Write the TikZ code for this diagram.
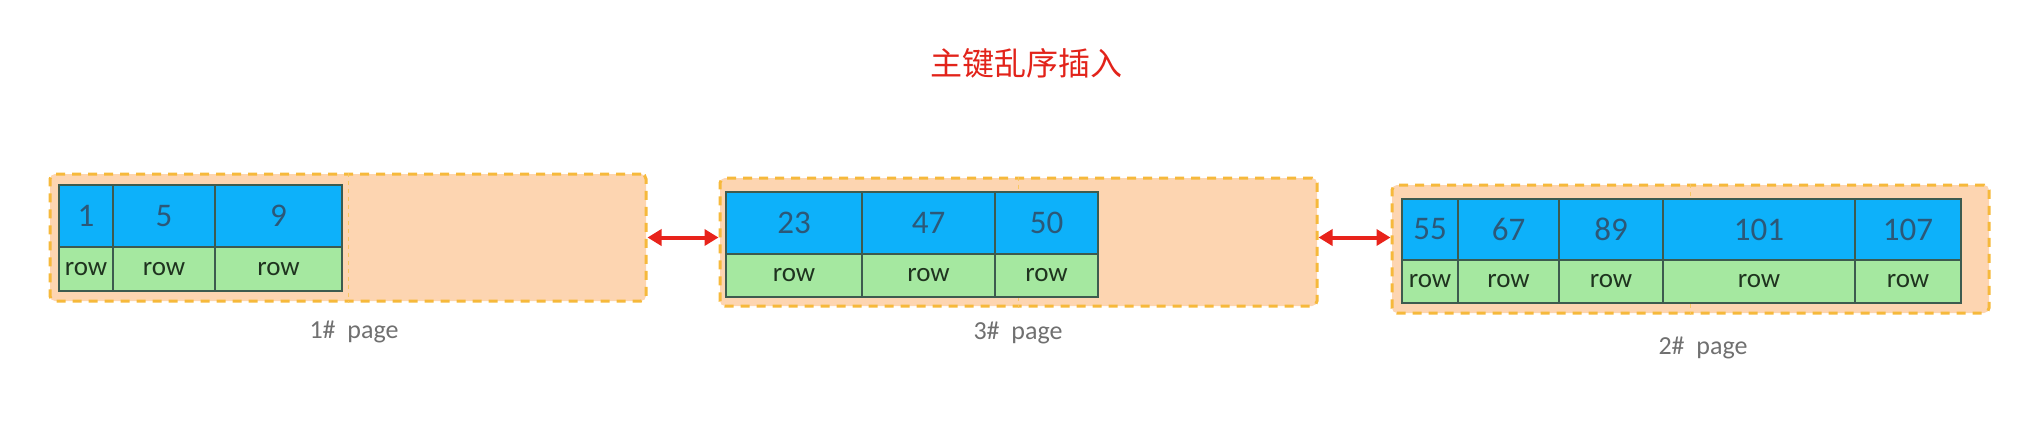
\documentclass[tikz,border=0pt]{standalone}
\usepackage{fontspec}
\setmainfont{Carlito}
\newfontfamily\cjkfont{Noto Sans CJK SC}
\usetikzlibrary{arrows.meta}

\definecolor{pagefill}{HTML}{FDD5B1}
\definecolor{pageline}{HTML}{F6B93B}
\definecolor{keyblue}{HTML}{0DB1FA}
\definecolor{rowgreen}{HTML}{A5E8A0}
\definecolor{cellline}{HTML}{3D5B4F}
\definecolor{keyink}{HTML}{2C5878}
\definecolor{rowink}{HTML}{1F331F}
\definecolor{labelgray}{HTML}{707070}
\definecolor{titlered}{HTML}{E2231A}
\definecolor{linkred}{HTML}{E8231B}

\tikzset{
  pagebox/.style={draw=pageline, fill=pagefill, line width=1.5pt, dash pattern=on 4.5pt off 3.5pt, rounded corners=2.5pt, inner sep=0pt},
  midline/.style={draw=pageline!80, line width=0.5pt, dash pattern=on 2pt off 2pt},
  keycell/.style={draw=cellline, fill=keyblue, line width=0.75pt},
  rowcell/.style={draw=cellline, fill=rowgreen, line width=0.75pt},
  keytext/.style={text=keyink, font=\fontsize{16.5}{19}\selectfont},
  rowtext/.style={text=rowink, font=\fontsize{13.5}{16}\selectfont},
  pagelabel/.style={text=labelgray, font=\fontsize{13}{15}\selectfont},
  linkarrow/.style={draw=linkred, line width=2pt, {Triangle[length=7pt,width=8pt]}-{Triangle[length=7pt,width=8pt]}},
}

\begin{document}
\begin{tikzpicture}[x=0.5pt,y=-0.5pt]
\useasboundingbox (0,0) rectangle (2017,446);
% title
\node[text=titlered, font=\cjkfont\fontsize{16}{19}\selectfont] (title) at (1026,63) {主键乱序插入};

% page boxes
\node[pagebox, minimum width=298pt, minimum height=63.5pt] (p1) at (348,237.5) {};
\node[pagebox, minimum width=298.5pt, minimum height=64pt] (p3) at (1018.5,242) {};
\node[pagebox, minimum width=298.5pt, minimum height=64pt] (p2) at (1690.5,249) {};
\draw[midline] (p1.north) -- (p1.south);
\draw[midline] (p3.north) -- (p3.south);
\draw[midline] (p2.north) -- (p2.south);

% 1# page
\foreach \xa/\xb/\k in {59/113/1, 113/215/5, 215/342/9} {
  \draw[keycell] (\xa,185) rectangle (\xb,247);
  \draw[rowcell] (\xa,247) rectangle (\xb,291);
  \node[keytext] (k\k) at ({(\xa+\xb)/2},216) {\k};
  \node[rowtext] (r\k) at ({(\xa+\xb)/2},269) {row};
}
% 3# page
\foreach \xa/\xb/\k in {726/862/23, 862/995/47, 995/1098/50} {
  \draw[keycell] (\xa,192) rectangle (\xb,254);
  \draw[rowcell] (\xa,254) rectangle (\xb,297);
  \node[keytext] (k\k) at ({(\xa+\xb)/2},223) {\k};
  \node[rowtext] (r\k) at ({(\xa+\xb)/2},275.5) {row};
}
% 2# page
\foreach \xa/\xb/\k in {1402/1458/55, 1458/1559/67, 1559/1663/89, 1663/1855/101, 1855/1961/107} {
  \draw[keycell] (\xa,199) rectangle (\xb,260);
  \draw[rowcell] (\xa,260) rectangle (\xb,303);
  \node[keytext] (k\k) at ({(\xa+\xb)/2},229.5) {\k};
  \node[rowtext] (r\k) at ({(\xa+\xb)/2},281.5) {row};
}

% page labels
\node[pagelabel] (l1) at (354,332) {1\#\ \ page};
\node[pagelabel] (l3) at (1018,333) {3\#\ \ page};
\node[pagelabel] (l2) at (1703,348) {2\#\ \ page};

% links
\draw[linkarrow] (p1.east) -- (p1.east -| p3.west);
\draw[linkarrow] (p3.east |- p1.east) -- (p2.west |- p1.east);
\end{tikzpicture}
\end{document}
